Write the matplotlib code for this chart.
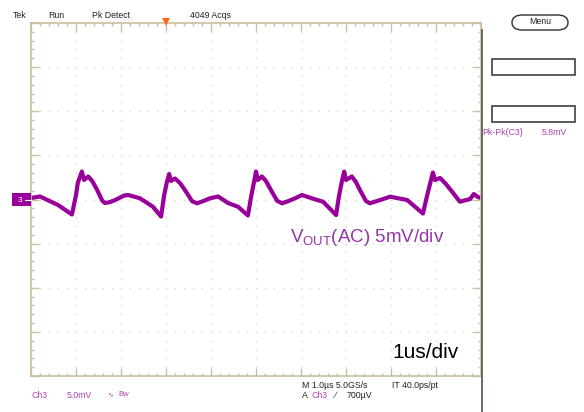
import matplotlib
matplotlib.use('Agg')
import numpy as np
import matplotlib.pyplot as plt
from matplotlib.patches import Rectangle, FancyBboxPatch
from matplotlib.lines import Line2D
from matplotlib.ticker import MultipleLocator

#---------------------------- trace (us, mV) ----------------
t_us = [-5.00, -4.80, -4.40, -4.09, -4.00, -3.96, -3.87, -3.82, -3.73, -3.64, -3.53, -3.42, -3.36, -3.25, -3.13, -2.93, -2.84,
        -2.58, -2.29, -2.11, -2.04, -1.98, -1.93, -1.89, -1.80, -1.69, -1.58, -1.42, -1.31, -1.18, -1.02, -0.84,
        -0.62, -0.40, -0.18, -0.11, -0.04, 0.00, 0.04, 0.13, 0.22, 0.31, 0.47, 0.58, 0.71, 0.87, 1.02,
        1.31, 1.49, 1.78, 1.84, 1.91, 1.96, 2.00, 2.13, 2.22, 2.31, 2.44, 2.53, 2.64, 2.76, 2.98, 3.36,
        3.71, 3.80, 3.89, 3.93, 3.98, 4.09, 4.22, 4.38, 4.53, 4.76, 4.84, 4.93, 5.00]
v_mV = [0.17, 0.34, -0.62, -1.70, 0.51, 1.87, 3.17, 2.21, 2.61, 2.10, 1.08, -0.10, -0.40, -0.30, -0.06, 0.45, 0.51,
        0.14, -0.82, -1.93, 0.51, 1.98, 2.89, 2.10, 2.38, 1.87, 1.08, -0.20, -0.43, -0.20, 0.14, 0.34,
        -0.40, -0.82, -1.81, 0.28, 2.10, 3.17, 2.21, 2.61, 2.10, 1.27, -0.15, -0.43, -0.20, 0.14, 0.51,
        0.02, -0.25, -1.76, 0.28, 2.10, 3.17, 2.21, 2.61, 1.98, 1.08, -0.15, -0.43, -0.25, -0.06, 0.32, -0.06,
        -1.59, 0.40, 2.21, 3.06, 2.21, 2.44, 1.76, 0.74, -0.25, 0.06, 0.62, 0.28, 0.17]

top_labels = ["Tek", "Run", "Pk Detect", "4049 Acqs"]
top_x = [13, 48, 92, 190]

W, H = 584, 412
def fx(x): return x / W
def fy(y): return 1 - y / H

plt.rcParams['font.family'] = ['Liberation Sans', 'DejaVu Sans']
plt.rcParams['mathtext.fontset'] = 'custom'
plt.rcParams['mathtext.rm'] = 'Liberation Sans'

tan = '#C8C0A0'
trace = '#990099'
chan = '#B040B0'

fig = plt.figure(figsize=(5.84, 4.12), dpi=100)
ax = fig.add_axes([fx(31), fy(376), 450 / W, 353 / H])
ax.set_xlim(-5, 5)
ax.set_ylim(-20, 20)

# dotted graticule
for xv in range(-4, 5):
    yy = np.arange(-19, 20, 1.0)
    ax.plot([xv] * len(yy), yy, ls='none', marker='s', ms=0.9, mew=0, color='#D0D0C6')
for yv in range(-15, 20, 5):
    xx = np.arange(-4.8, 5, 0.2)
    ax.plot(xx, [yv] * len(xx), ls='none', marker='s', ms=0.9, mew=0, color='#D0D0C6')

ax.xaxis.set_major_locator(MultipleLocator(1))
ax.xaxis.set_minor_locator(MultipleLocator(0.2))
ax.yaxis.set_major_locator(MultipleLocator(5))
ax.yaxis.set_minor_locator(MultipleLocator(1))
ax.tick_params(which='both', direction='in', top=True, right=True, labelbottom=False,
               labelleft=False, color=tan, width=1)
ax.tick_params(which='major', length=6)
ax.tick_params(which='minor', length=2.5)
for s in ax.spines.values():
    s.set_color(tan)
    s.set_linewidth(1.2)

ax.plot(t_us, v_mV, color=trace, lw=3.0, solid_joinstyle='round', solid_capstyle='butt')

# side divider
fig.add_artist(Line2D([fx(481.5), fx(481.5)], [fy(30), fy(412)], color='#606058', lw=1.3))

# top status line
for lab, x in zip(top_labels, top_x):
    fig.text(fx(x), fy(15), lab, fontsize=6.3, va='center', color='#202020')
fig.add_artist(Line2D([fx(166)], [fy(22)], marker='v', ms=6, mew=0, color='#FF6A1A'))

# menu button
fig.add_artist(FancyBboxPatch((fx(512), fy(30)), fx(56), 15 / H,
                              boxstyle='round,pad=0,rounding_size=0.018',
                              fc='white', ec='#303030', lw=1))
fig.text(fx(540), fy(22), 'Menu', fontsize=6.3, ha='center', va='center', color='#202020')

# measurement boxes
for y0 in [59, 106]:
    fig.add_artist(Rectangle((fx(492), fy(y0 + 16)), fx(83), 16 / H, fc='white', ec='#404040', lw=1.2))
fig.text(fx(482), fy(132), 'Pk-Pk(C3)', fontsize=6.3, va='center', color=chan)
fig.text(fx(542), fy(132), '5.8mV', fontsize=6.3, va='center', color=chan)

# channel marker
fig.add_artist(Rectangle((fx(12), fy(206)), fx(19), 13 / H, fc=trace, ec='none'))
fig.text(fx(20), fy(200), '3', fontsize=6, ha='center', va='center', color='white')
fig.add_artist(Line2D([fx(25), fx(31)], [fy(200), fy(200)], color='white', lw=0.8))

# annotations
fig.text(fx(290), fy(238), r'V$_{\mathrm{OUT}}$(AC) 5mV/div', fontsize=13.5, va='center', color='#9535A8')
fig.text(fx(392), fy(353), '1us/div', fontsize=15, va='center', color='black')

# bottom readouts
fig.text(fx(31), fy(395), 'Ch3', fontsize=6.3, va='center', color=chan)
fig.text(fx(67), fy(395), '5.0mV', fontsize=6.3, va='center', color=chan)
fig.text(fx(107), fy(395), '\u223f', fontsize=5, va='center', color=chan)
fig.text(fx(118), fy(394), 'Bw', fontsize=5.5, va='center', color=chan)
fig.text(fx(302), fy(385), 'M 1.0\u00b5s 5.0GS/s', fontsize=6.3, va='center', color='#202020')
fig.text(fx(392), fy(385), 'IT 40.0ps/pt', fontsize=6.3, va='center', color='#202020')
fig.text(fx(302), fy(396), 'A', fontsize=6.3, va='center', color='#202020')
fig.text(fx(312), fy(396), 'Ch3', fontsize=6.3, va='center', color=chan)
fig.text(fx(335), fy(396), '\u2215', fontsize=6.3, va='center', color='#202020')
fig.text(fx(347), fy(396), '700\u00b5V', fontsize=6.3, va='center', color='#202020')

fig.savefig('out.png', dpi=100)
